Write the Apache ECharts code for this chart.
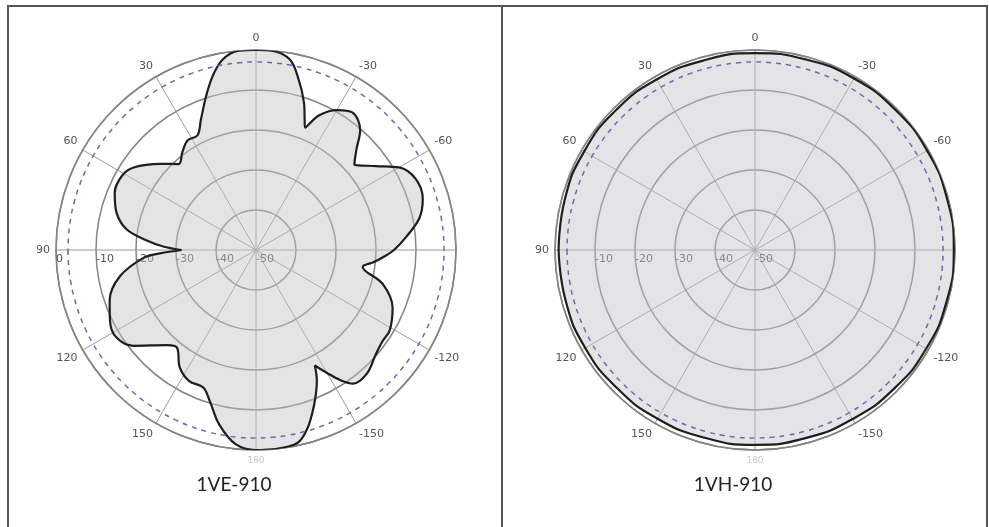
<!DOCTYPE html>
<html>
<head>
<meta charset="utf-8">
<script src="https://cdn.jsdelivr.net/npm/echarts@6/dist/echarts.min.js"></script>
<style>
html,body{margin:0;padding:0;background:#fff;}
#chart{position:absolute;left:0;top:0;width:989px;height:527px;}
.b{position:absolute;background:#555;}
</style>
</head>
<body>
<div id="chart"></div>
<div class="b" style="left:7px;top:5px;width:980px;height:1.5px;"></div>
<div class="b" style="left:7px;top:5px;width:1.5px;height:522px;"></div>
<div class="b" style="left:500.5px;top:5px;width:2px;height:522px;"></div>
<div class="b" style="left:986px;top:5px;width:1.5px;height:522px;"></div>
<script>
// ---- data (angle in degrees, counter-clockwise positive; gain in dB) ----
const veAngles = [-180,-175,-168,-164,-160,-157,-155,-153,-150,-147,-144,-138,-131,-126,-121,-113,-105,-99,-96,-93,-90,-85,-79,-73,-66,-60,-55,-49,-45,-41,-35,-30,-25,-22,-18,-14,-10,-4,
  0,5,10,14,18,23,27,32,37,42,48,56,61,68,75,81,85,88,90,92,94,101,109,116,122,128,137,141,147,153,159,163,168,174];
const veGain = [0,0,-0.6,-3.5,-8,-11.5,-14,-17.6,-14.5,-11.2,-8.7,-8.5,-10.3,-11,-11,-12.9,-17.2,-23,-20.5,-18,-15.5,-12.3,-8.4,-6.4,-6.3,-8.7,-13.4,-17.4,-14.5,-10.3,-8,-9.6,-12.9,-17,-11.2,-6,-1.6,0,
  0,0,-1.7,-5.2,-9.6,-14.7,-17.8,-17.7,-19.4,-21.1,-17.8,-13.1,-11.7,-11.9,-13.9,-17.3,-22.6,-27,-31.4,-26,-21.8,-15.3,-11.3,-9.4,-8.8,-11.1,-17.5,-18.6,-15,-13.2,-13.2,-10.5,-5.5,-1.2];

const vhAngles = [-165,-150,-135,-120,-105,-90,-75,-60,-45,-30,-15,0,15,30,45,60,75,90,105,120,135,150,165,180];
const vhGain = [-1.3,-1.2,-0.9,-0.6,-0.4,-0.3,-0.3,-0.3,-0.4,-0.5,-0.7,-0.8,-0.9,-0.8,-0.7,-0.7,-0.8,-0.9,-1.0,-1.0,-1.2,-1.3,-1.4,-1.3];

const halfPower = -3;
const radiusTicks = [-50, -40, -30, -20, -10, 0];
const titles = ['1VE-910', '1VH-910'];

// map a display angle (-180..180) into the axis range [90, 450)
function axAngle(a) { return ((a - 90) % 360 + 360) % 360 + 90; }
function closedCurve(angles, gains) {
  const pts = angles.map((a, i) => [gains[i], axAngle(a)]);
  pts.sort((p, q) => p[1] - q[1]);
  pts.push([pts[0][0], pts[0][1] + 360]);
  return pts;
}
function refCircle(level) {
  const pts = [];
  for (let a = 90; a <= 450; a += 5) pts.push([level, a]);
  return pts;
}

const chart = echarts.init(document.getElementById('chart'), null, {renderer: 'canvas'});
const centers = [[256, 250], [755, 250]];
const labelFont = {fontFamily: 'DejaVu Sans', fontSize: 11, color: '#555'};

function angleAxis(idx) {
  return {
    polarIndex: idx, type: 'value', min: 90, max: 450, interval: 30,
    startAngle: 180, clockwise: false,
    axisLine: {lineStyle: {color: '#858585', width: 1.5}},
    axisTick: {show: false},
    splitLine: {show: true, lineStyle: {color: '#9a9a9a', width: 1}},
    axisLabel: Object.assign({
      margin: 6,
      formatter: function (v) {
        if (v >= 450) return '';
        let d = v % 360; if (d > 180) d -= 360;
        if (d === -90) return '';
        if (d === 180) return '{f|180}';
        return String(d);
      },
      rich: {f: {color: '#c8c8c8', fontSize: 9, fontFamily: 'DejaVu Sans'}}
    }, labelFont)
  };
}
function radiusAxis(idx) {
  return {
    polarIndex: idx, type: 'value', min: radiusTicks[0], max: radiusTicks[radiusTicks.length - 1], interval: 10,
    axisLine: {show: false}, axisTick: {show: false},
    splitLine: {show: true, lineStyle: {color: '#858585', width: 1.5}},
    axisLabel: Object.assign({rotate: 0, align: 'left', verticalAlign: 'top', margin: 4, showMaxLabel: idx === 0}, labelFont)
  };
}

const curves = [closedCurve(veAngles, veGain), closedCurve(vhAngles, vhGain)];

chart.setOption({
  animation: false,
  title: titles.map((t, i) => ({
    text: t, left: centers[i][0] - 27, top: 470, textAlign: 'center',
    textStyle: {fontFamily: 'Lato', fontSize: 19, fontWeight: 'normal', color: '#222'}
  })),
  polar: centers.map(c => ({center: c, radius: 200})),
  angleAxis: [angleAxis(0), angleAxis(1)],
  radiusAxis: [radiusAxis(0), radiusAxis(1)],
  series: [
    {type: 'line', coordinateSystem: 'polar', polarIndex: 0, data: curves[0], smooth: 0.35, symbol: 'none',
     lineStyle: {color: '#1e1e1e', width: 2.2}, areaStyle: {origin: 'start', color: 'rgba(195,195,198,0.65)'}, z: 2},
    {type: 'line', coordinateSystem: 'polar', polarIndex: 0, data: refCircle(halfPower), smooth: true, symbol: 'none',
     lineStyle: {color: '#6b6bb0', width: 1.5, type: [5, 5]}, z: 3},
    {type: 'line', coordinateSystem: 'polar', polarIndex: 1, data: curves[1], smooth: true, symbol: 'none',
     lineStyle: {color: '#1e1e1e', width: 2.2}, areaStyle: {origin: 'start', color: 'rgba(195,195,200,0.65)'}, z: 2},
    {type: 'line', coordinateSystem: 'polar', polarIndex: 1, data: refCircle(halfPower), smooth: true, symbol: 'none',
     lineStyle: {color: '#6b6bb0', width: 1.5, type: [5, 5]}, z: 3}
  ]
});
</script>
</body>
</html>
